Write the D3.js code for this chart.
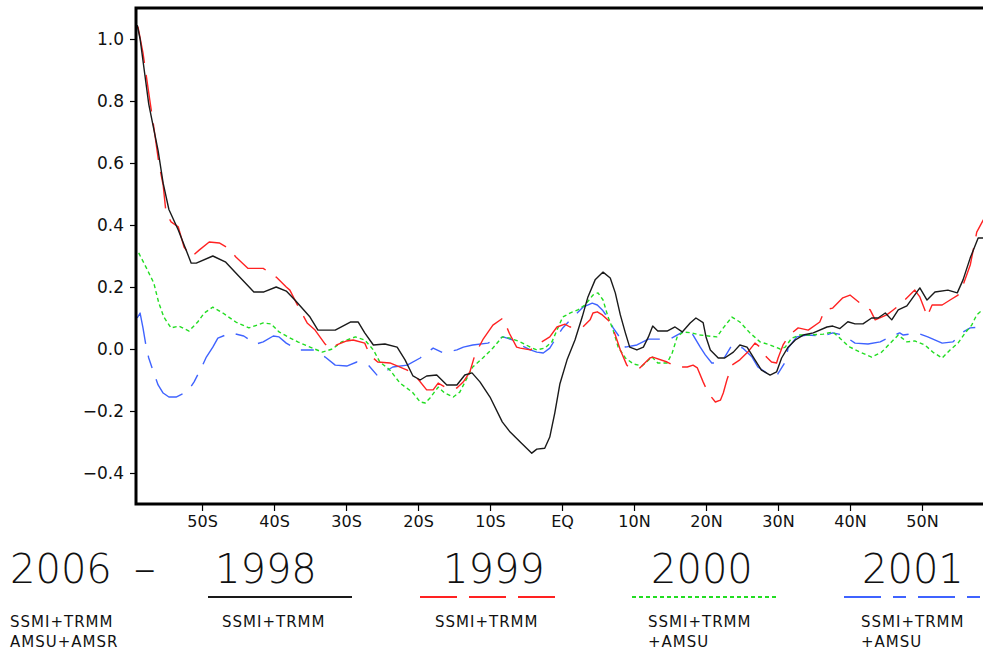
<!DOCTYPE html>
<html>
<head>
<meta charset="utf-8">
<script src="https://cdn.jsdelivr.net/npm/d3@7"></script>
<style>
  html, body { margin: 0; padding: 0; background: #fff; }
  svg { display: block; }
  text { font-family: "DejaVu Sans", sans-serif; fill: #111; }
</style>
</head>
<body>
<svg id="chart" width="983" height="656"></svg>
<script>
// ---------------- data ----------------
const xTickLats = [-50, -40, -30, -20, -10, 0, 10, 20, 30, 40, 50];
const xTickLabels = ["50S", "40S", "30S", "20S", "10S", "EQ", "10N", "20N", "30N", "40N", "50N"];
const yTicks = [-0.4, -0.2, 0.0, 0.2, 0.4, 0.6, 0.8, 1.0];

const years = ["1998", "1999", "2000", "2001"];
const sensors = [["SSMI+TRMM"], ["SSMI+TRMM"], ["SSMI+TRMM", "+AMSU"], ["SSMI+TRMM", "+AMSU"]];
const baseYear = "2006";
const baseDash = "\u2013";
const baseSensors = ["SSMI+TRMM", "AMSU+AMSR"];

const lat1998 = [-59.0,-58.6,-57.4,-56.1,-55.4,-54.6,-53.3,-51.5,-50.8,-48.5,-46.7,-45.3,-42.8,-41.4,-39.7,-38.3,-37.1,-35.0,-33.9,-31.5,-29.4,-28.3,-27.4,-26.2,-24.6,-22.9,-21.8,-20.7,-19.7,-18.8,-17.4,-16.0,-14.6,-13.5,-12.5,-11.4,-10.0,-8.3,-7.2,-5.8,-4.2,-3.5,-2.4,-1.7,-1.0,-0.3,0.7,1.8,2.8,3.6,4.6,5.7,6.7,7.4,8.1,8.8,9.4,10.4,11.3,12.0,12.6,13.3,14.6,15.7,16.7,17.8,18.6,19.6,20.0,20.6,21.7,22.6,23.8,24.7,25.7,26.8,27.7,28.9,29.8,30.5,31.4,32.4,33.5,34.9,36.8,37.6,38.6,39.7,40.7,41.8,43.0,43.9,44.9,45.8,46.7,47.9,48.8,49.7,50.7,51.8,53.6,54.9,55.7,56.7,57.8,60.0];
const val1998 = [1.045,1.00,0.79,0.64,0.535,0.45,0.384,0.277,0.277,0.30,0.28,0.245,0.184,0.184,0.20,0.187,0.158,0.103,0.061,0.061,0.087,0.087,0.052,0.013,0.016,0.006,-0.035,-0.087,-0.10,-0.087,-0.084,-0.116,-0.116,-0.084,-0.077,-0.106,-0.155,-0.235,-0.268,-0.30,-0.336,-0.323,-0.32,-0.284,-0.206,-0.113,-0.035,0.029,0.103,0.168,0.223,0.248,0.229,0.181,0.11,0.052,0.006,-0.003,0.006,0.039,0.074,0.058,0.058,0.071,0.055,0.084,0.10,0.085,0.039,-0.003,-0.029,-0.029,-0.01,0.013,0.006,-0.035,-0.068,-0.084,-0.074,-0.029,0.006,0.029,0.045,0.052,0.071,0.074,0.066,0.088,0.081,0.081,0.10,0.10,0.116,0.094,0.126,0.139,0.168,0.197,0.158,0.184,0.19,0.181,0.223,0.294,0.358,0.358];

const lat1999 = [-58.9,-58.2,-57.4,-56.7,-56.0,-55.4,-55.0,-54.3,-53.3,-52.5,-51.5,-50.4,-49.0,-47.6,-46.4,-45.3,-43.6,-41.5,-39.7,-38.3,-37.8,-36.6,-35.4,-34.3,-32.9,-32.2,-31.3,-29.9,-29.0,-27.4,-26.7,-25.6,-23.9,-21.5,-20.1,-18.8,-17.9,-17.2,-16.0,-14.6,-13.7,-12.8,-12.1,-11.0,-9.6,-8.2,-7.3,-6.3,-5.8,-4.4,-3.1,-1.7,-0.7,0.4,1.1,2.9,3.9,4.3,4.9,5.6,6.7,7.4,8.1,9.0,9.4,10.8,11.5,12.2,12.6,14.6,15.4,16.4,17.4,18.2,18.8,19.6,20.3,21.3,22.0,22.4,22.9,23.6,24.7,25.8,26.8,27.7,28.4,29.1,29.8,30.0,30.7,31.4,32.1,32.8,34.2,35.8,36.5,37.6,39.0,40.0,41.4,42.8,43.5,45.1,46.0,46.9,48.3,49.0,49.7,50.4,50.7,51.1,51.4,52.8,53.9,55.0,55.7,56.7,57.4,57.6,58.5,60.0];
const val1999 = [1.04,0.955,0.826,0.716,0.60,0.529,0.439,0.41,0.394,0.329,0.297,0.319,0.345,0.342,0.326,0.297,0.26,0.26,0.232,0.20,0.19,0.135,0.084,0.061,0.016,0.0,0.013,0.026,0.029,0.019,-0.019,-0.042,-0.045,-0.068,-0.094,-0.132,-0.132,-0.11,-0.126,-0.126,-0.106,-0.074,-0.019,0.03,0.077,0.10,0.05,0.006,0.003,-0.003,0.019,0.039,0.071,0.08,0.071,0.071,0.094,0.116,0.12,0.11,0.087,0.045,-0.003,-0.052,-0.061,-0.061,-0.045,-0.029,-0.026,-0.042,-0.052,-0.058,-0.058,-0.052,-0.061,-0.106,-0.142,-0.171,-0.165,-0.142,-0.10,-0.052,-0.035,-0.01,0.019,0.003,-0.026,-0.042,-0.045,-0.03,0.013,0.039,0.055,0.068,0.061,0.087,0.126,0.132,0.165,0.174,0.148,0.126,0.094,0.11,0.126,0.142,0.174,0.19,0.168,0.126,0.103,0.126,0.142,0.142,0.158,0.174,0.206,0.271,0.352,0.377,0.416,0.45];

const lat2000 = [-58.8,-57.8,-56.7,-56.0,-55.3,-54.3,-53.2,-51.8,-50.6,-49.7,-48.5,-47.1,-45.3,-43.5,-41.5,-40.4,-39.3,-38.3,-36.7,-35.0,-33.3,-31.9,-30.6,-28.7,-27.4,-26.2,-25.3,-23.9,-22.5,-20.8,-19.7,-19.0,-18.3,-17.2,-16.3,-15.1,-14.2,-13.2,-12.4,-11.0,-9.6,-8.3,-7.2,-5.8,-4.4,-3.5,-2.4,-1.4,-0.7,0.1,1.1,2.2,3.2,4.3,5.0,5.7,6.4,7.1,7.8,8.8,9.9,11.1,12.5,13.3,14.6,15.3,16.0,16.8,18.0,19.2,20.3,21.5,22.4,23.6,24.7,26.1,27.5,28.9,30.3,31.0,31.9,33.0,34.4,36.3,37.6,38.6,39.6,40.0,41.4,43.0,44.4,45.6,46.7,47.9,49.0,50.4,51.5,52.8,53.9,55.0,56.0,56.9,57.6,58.1,60.0];
const val2000 = [0.31,0.265,0.213,0.148,0.103,0.068,0.074,0.058,0.087,0.116,0.135,0.116,0.087,0.068,0.084,0.081,0.055,0.042,0.023,0.006,-0.01,0.0,0.023,0.039,0.029,-0.003,-0.042,-0.068,-0.11,-0.139,-0.171,-0.174,-0.157,-0.123,-0.142,-0.155,-0.139,-0.094,-0.058,-0.029,0.003,0.039,0.035,0.023,0.006,-0.003,0.003,0.023,0.061,0.103,0.116,0.126,0.142,0.174,0.181,0.158,0.103,0.061,0.006,-0.029,-0.048,-0.055,-0.026,-0.045,-0.045,-0.013,0.039,0.055,0.052,0.045,0.042,0.039,0.068,0.103,0.087,0.052,0.023,0.013,0.0,0.006,0.035,0.045,0.045,0.048,0.055,0.035,0.013,0.006,-0.01,-0.026,-0.01,0.019,0.045,0.023,0.026,0.013,-0.01,-0.029,-0.003,0.019,0.052,0.077,0.11,0.12,0.116];

const lat2001 = [-59.0,-58.6,-58.2,-57.8,-57.4,-56.7,-56.1,-55.4,-54.6,-53.6,-51.9,-51.1,-50.1,-49.4,-48.5,-47.8,-46.0,-44.2,-42.5,-41.5,-40.1,-39.3,-38.3,-36.7,-34.6,-32.9,-31.5,-29.9,-28.5,-26.9,-25.6,-23.5,-21.5,-19.7,-17.9,-16.5,-14.6,-13.7,-12.4,-10.3,-8.2,-6.8,-5.8,-4.4,-3.5,-2.6,-1.7,-1.0,0.1,1.4,2.9,4.2,4.9,5.6,6.4,7.1,8.1,8.8,10.4,12.0,15.0,16.8,17.8,19.2,19.9,20.8,21.7,22.6,23.6,24.3,25.1,26.4,27.2,28.4,29.8,31.0,31.4,32.6,34.0,36.3,37.6,39.0,40.7,42.5,44.2,45.6,46.9,47.4,49.3,50.8,52.8,54.3,55.7,56.7,58.3,60.0];
const val2001 = [0.10,0.116,0.068,0.013,-0.029,-0.077,-0.116,-0.142,-0.155,-0.155,-0.135,-0.106,-0.061,-0.026,0.006,0.035,0.052,0.042,0.016,0.023,0.042,0.039,0.019,-0.003,-0.003,-0.026,-0.052,-0.055,-0.042,-0.052,-0.087,-0.058,-0.052,-0.029,0.003,-0.013,-0.003,0.006,0.013,0.019,0.039,0.029,0.013,-0.003,-0.01,-0.013,0.003,0.029,0.068,0.10,0.135,0.148,0.142,0.126,0.10,0.068,0.035,0.006,0.013,0.032,0.032,0.055,0.061,0.006,-0.019,-0.045,-0.045,-0.026,0.013,0.013,0.003,-0.026,-0.058,-0.077,-0.087,-0.042,0.003,0.039,0.045,0.042,0.052,0.045,0.019,0.016,0.023,0.039,0.052,0.045,0.052,0.039,0.019,0.023,0.055,0.068,0.071,0.075];

// ---------------- layout ----------------
const svg = d3.select("#chart");
const plot = { left: 136, top: 8, bottom: 504, right: 994 };

const x = d3.scaleLinear().domain([-59.17, 60]).range([plot.left, plot.right]);
const y = d3.scaleLinear().domain([-0.5, 1.1]).range([plot.bottom, plot.top]);

const seriesStyle = [
  { color: "#1a1a1a", dash: null, width: 1.4 },
  { color: "#ff2222", dash: "37,12", width: 1.4 },
  { color: "#22dd22", dash: "4,3", width: 1.4 },
  { color: "#3f63ff", dash: "37,12,13,12", width: 1.4 }
];
const seriesData = [
  d3.zip(lat1998, val1998),
  d3.zip(lat1999, val1999),
  d3.zip(lat2000, val2000),
  d3.zip(lat2001, val2001)
];

svg.append("clipPath").attr("id", "clip")
  .append("rect")
  .attr("x", plot.left).attr("y", plot.top)
  .attr("width", plot.right - plot.left).attr("height", plot.bottom - plot.top);

const line = d3.line().x(d => x(d[0])).y(d => y(d[1]));

const lines = svg.append("g").attr("clip-path", "url(#clip)");
[3, 2, 1, 0].forEach(i => {
  const s = seriesStyle[i];
  lines.append("path")
    .datum(seriesData[i])
    .attr("fill", "none")
    .attr("stroke", s.color)
    .attr("stroke-width", s.width)
    .attr("stroke-dasharray", s.dash)
    .attr("stroke-linejoin", "round")
    .attr("d", line);
});

// frame
svg.append("rect")
  .attr("x", plot.left).attr("y", plot.top)
  .attr("width", plot.right - plot.left).attr("height", plot.bottom - plot.top)
  .attr("fill", "none").attr("stroke", "#000").attr("stroke-width", 3);

// y axis
const fmtY = v => (v < 0 ? "\u2212" : "") + Math.abs(v).toFixed(1);
const yAxis = d3.axisLeft(y).tickValues(yTicks).tickFormat(fmtY).tickSizeOuter(0).tickSize(6).tickPadding(6);
const gy = svg.append("g").attr("transform", `translate(${plot.left},0)`).call(yAxis);
gy.select(".domain").remove();
gy.selectAll(".tick line").attr("stroke", "#000").attr("stroke-width", 1.2);
gy.selectAll(".tick text").attr("font-size", 17).attr("font-family", "DejaVu Sans, sans-serif").attr("fill", "#111");

// x axis
const xAxis = d3.axisBottom(x).tickValues(xTickLats).tickFormat((d, i) => xTickLabels[i]).tickSize(7).tickPadding(5).tickSizeOuter(0);
const gx = svg.append("g").attr("transform", `translate(0,${plot.bottom})`).call(xAxis);
gx.select(".domain").remove();
gx.selectAll(".tick line").attr("stroke", "#000").attr("stroke-width", 1.2);
gx.selectAll(".tick text").attr("font-size", 16).attr("font-family", "DejaVu Sans Condensed, DejaVu Sans, sans-serif").attr("fill", "#111");

// ---------------- legend ----------------
const leg = svg.append("g");
const bigSize = 40, smallSize = 15;
const smallFont = "DejaVu Sans, sans-serif";
const baseText = leg.append("text").attr("x", 10).attr("y", 583).attr("font-size", bigSize).attr("font-weight", 200);
baseText.append("tspan").text(baseYear);
baseText.append("tspan").attr("dx", 22).attr("font-size", 44).text(baseDash);
baseSensors.forEach((t, j) => {
  leg.append("text").attr("x", 10).attr("y", 627 + j * 20).attr("font-size", smallSize)
    .attr("letter-spacing", 1).attr("font-family", smallFont).text(t);
});

const legScale = d3.scalePoint().domain(years).range([210, 846]);
const yearShift = [5, 21, 17, 16];
years.forEach((yr, i) => {
  const x0 = legScale(yr);
  const s = seriesStyle[i];
  leg.append("text").attr("x", x0 + yearShift[i]).attr("y", 583)
    .attr("font-size", bigSize).attr("font-weight", 200).text(yr);
  leg.append("line").attr("x1", x0 - 2).attr("x2", x0 + 142).attr("y1", 597).attr("y2", 597)
    .attr("stroke", s.color).attr("stroke-width", 2).attr("stroke-dasharray", s.dash);
  sensors[i].forEach((t, j) => {
    leg.append("text").attr("x", x0 + 12 + i).attr("y", 627 + j * 20).attr("font-size", smallSize)
      .attr("letter-spacing", 1).attr("font-family", smallFont).text(t);
  });
});
</script>
</body>
</html>
